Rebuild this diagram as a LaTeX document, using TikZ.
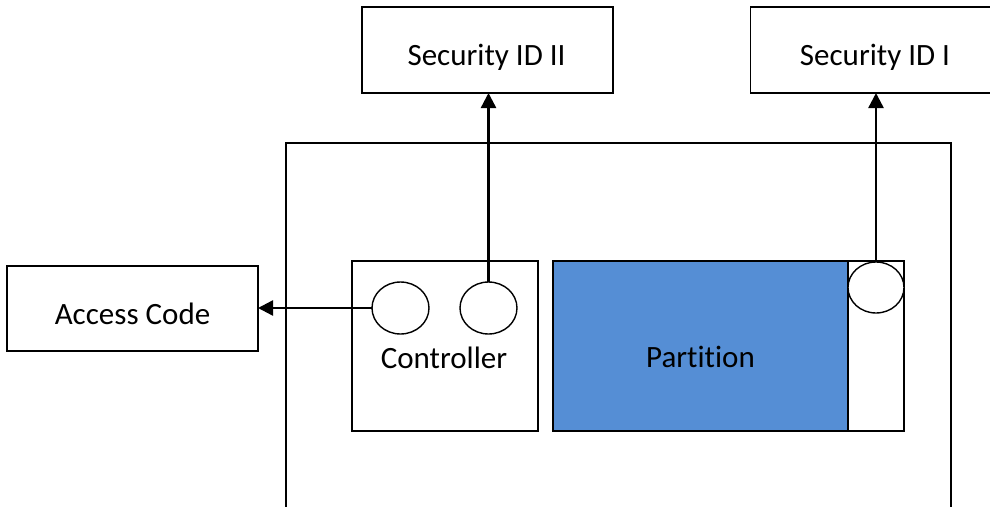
\documentclass[tikz,border=0pt]{standalone}
\usepackage{fontspec}
\setmainfont{Carlito}[Ligatures=NoCommon]
\usetikzlibrary{arrows.meta,shapes.geometric}
\definecolor{partblue}{HTML}{558ED5}
\begin{document}
\begin{tikzpicture}[x=1pt,y=-1pt,
  box/.style={draw=black, line width=1.4pt, fill=white, inner sep=0pt, outer sep=0pt},
  port/.style={ellipse, draw=black, line width=1.4pt, fill=white, inner sep=0pt, outer sep=0pt},
  lbl/.style={inner sep=0pt, anchor=base, font=\fontsize{31}{31}\selectfont},
  link/.style={line width=2.4pt, -{Triangle[length=15pt,width=15pt]}}]
\useasboundingbox (0,0) rectangle (990,506);
\clip (0,0) rectangle (990,506);
% outer enclosure (open below the picture edge)
\node[box, minimum width=665pt, minimum height=417pt] (outer) at (618.5,351.5) {};
% top boxes
\node[box, minimum width=251pt, minimum height=86pt] (secII) at (487.5,50) {};
\node[lbl] (secIItext) at (486.5,65) {Security ID II};
\node[box, minimum width=251pt, minimum height=86pt] (secI) at (876,50) {};
\node[lbl] (secItext) at (875,65) {Security ID I};
% access code
\node[box, minimum width=251pt, minimum height=85pt] (access) at (132.5,308.5) {};
\node[lbl] (accesstext) at (132.5,324) {Access Code};
% controller
\node[box, minimum width=186pt, minimum height=170pt] (ctrl) at (445,346) {};
\node[lbl] (ctrltext) at (444,368) {Controller};
% partition
\node[box, fill=partblue, minimum width=295pt, minimum height=170pt] (part) at (700.5,346) {};
\node[lbl] (parttext) at (700.5,367) {Partition};
\node[box, minimum width=56pt, minimum height=170pt] (side) at (876,346) {};
% ports
\node[port, minimum width=57pt, minimum height=52pt] (c1) at (400.5,308) {};
\node[port, minimum width=57pt, minimum height=52pt] (c2) at (488.5,308) {};
\node[port, minimum width=56pt, minimum height=51pt] (c3) at (876,287.5) {};
% connectors
\draw[link] (c2.north) -- (c2.north |- secII.south);
\draw[link] (c3.north) -- (c3.north |- secI.south);
\draw[link] (c1.west) -- (c1.west -| access.east);
\end{tikzpicture}
\end{document}
